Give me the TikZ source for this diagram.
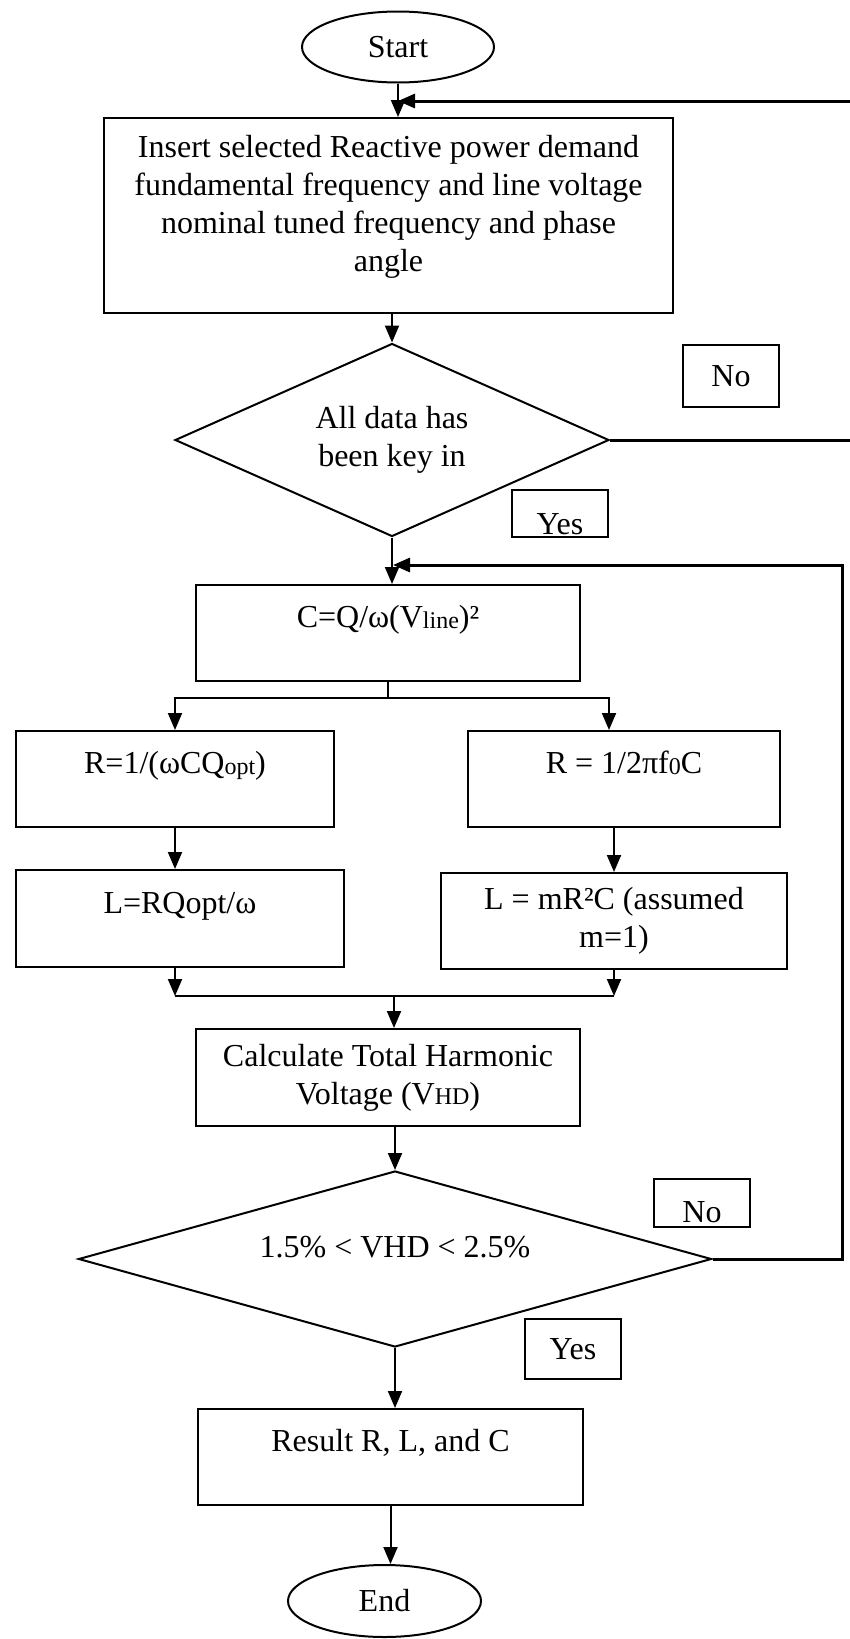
\documentclass[tikz,border=0pt]{standalone}
\usepackage{fontspec}
\setmainfont{Liberation Serif}
\usepackage{tikz}
\usetikzlibrary{positioning,shapes.geometric,arrows.meta,calc}

\newcommand{\lowtxt}[1]{\raisebox{-0.5pt}{\fontsize{24}{24}\selectfont #1}}

\begin{document}
\begin{tikzpicture}[
 x=1pt, y=-1pt,
 line width=2pt,
 font=\fontsize{32}{38}\selectfont,
 terminal/.style={ellipse, draw, minimum width=192pt, minimum height=71pt, inner sep=0pt},
 procbox/.style={rectangle, draw, align=center, inner sep=0pt},
 onebox/.style={procbox, text height=23pt, text depth=34pt},
 decision/.style={diamond, draw, align=center, inner sep=0pt},
 answer/.style={rectangle, draw, minimum width=96pt, inner sep=0pt},
 flow/.style={-{Triangle[length=17pt,width=14pt]}},
 loopback/.style={line width=3pt}
]
 \useasboundingbox (0,0) rectangle (849,1639);

 % Main column, top to bottom
 \node[terminal] (start) at (398,47) {Start};
 \node[procbox, minimum width=569pt, minimum height=195pt, text depth=25pt] (insert) at (388.5,215.5)
  {Insert selected Reactive power demand\\fundamental frequency and line voltage\\nominal tuned frequency and phase\\angle};
 \node[decision, aspect=2.2, minimum width=434pt, minimum height=193pt] (keyin) at (392,440) {All data has\\been key in};
 \node[onebox, minimum width=384pt, minimum height=96pt] (cap) at (388,633) {C=Q/ω(V\lowtxt{line})²};

 % Two branches: R and L
 \node[onebox, minimum width=318pt, minimum height=96pt] (rleft) at (175,779) {R=1/(ωCQ\lowtxt{opt})};
 \node[onebox, minimum width=312pt, minimum height=96pt] (rright) at (624,779) {R = 1/2πf\lowtxt{0}C};
 \node[onebox, minimum width=328pt, minimum height=97pt] (lleft) at (180,918.5) {L=RQopt/ω};
 \node[procbox, minimum width=346pt, minimum height=96pt] (lright) at (614,921) {L = mR²C (assumed\\m=1)};

 \node[procbox, minimum width=384pt, minimum height=97pt] (calc) at (388,1077.5) {Calculate Total Harmonic\\Voltage (V\lowtxt{HD})};
 \node[decision, aspect=3.6, minimum width=633pt, minimum height=176pt, text height=23pt, text depth=27pt] (vhdcheck) at (395,1259) {1.5\% < VHD < 2.5\%};
 \node[onebox, minimum width=385pt, minimum height=96pt] (result) at (390.5,1457) {Result R, L, and C};
 \node[terminal, minimum width=193pt, minimum height=72pt] (end) at (384.5,1601) {End};

 % Yes / No tags
 \node[answer, minimum height=62pt] (no1) at (731,376) {No};
 \node[answer, minimum height=47pt, path picture={\node at ([yshift=-11pt]path picture bounding box.center) {Yes};}] (yes1) at (560,513.5) {};
 \node[answer, minimum height=48pt, path picture={\node at ([yshift=-9pt]path picture bounding box.center) {No};}] (no2) at (702,1203) {};
 \node[answer, minimum height=60pt] (yes2) at (573,1349) {Yes};

 % Joints on the flow lines
 \coordinate (join1) at (398,101);
 \coordinate (join2) at (393,565);
 \coordinate (split) at (388,698);
 \coordinate (merge) at (394,996);

 \draw[flow] (start) -- (start.south |- insert.north);
 \draw[flow] (keyin.north |- insert.south) -- (keyin.north);
 \draw[flow] (keyin.south) -- (keyin.south |- cap.north);
 % No: back to the input
 \draw[flow, loopback] (keyin.east) -- ++(242,0) |- (join1);

 % Split into the two branches
 \draw (cap.south) -- (split);
 \draw[flow] (split) -| (rleft.north);
 \draw[flow] (split) -| ([xshift=-15pt]rright.north);
 \draw[flow] (rleft.south) -- (rleft.south |- lleft.north);
 \draw[flow] (lright.north |- rright.south) -- (lright.north);

 % Merge again
 \draw[flow] (rleft.south |- lleft.south) -- (rleft.south |- merge);
 \draw[flow] (lright.south) -- (lright.south |- merge);
 \draw (rleft.south |- merge) -- (lright.south |- merge);
 \draw[flow] (merge) -- (merge |- calc.north);

 \draw[flow] (vhdcheck.north |- calc.south) -- (vhdcheck.north);
 % No: back to C
 \draw[flow, loopback] (vhdcheck.east) -- ++(130,0) |- (join2);
 \draw[flow] (vhdcheck.south) -- (vhdcheck.south |- result.north);
 \draw[flow] (result.south) -- ([xshift=6pt]end.north);
\end{tikzpicture}
\end{document}
